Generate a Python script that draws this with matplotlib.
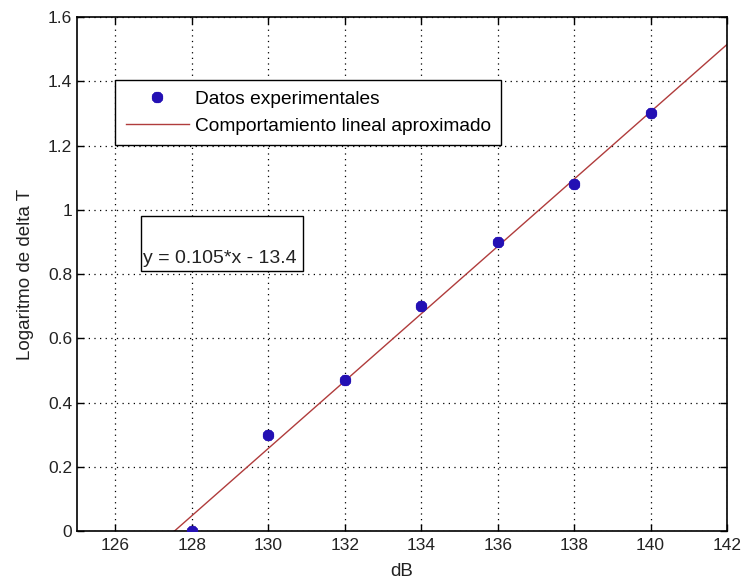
import matplotlib
matplotlib.use("Agg")
import matplotlib.pyplot as plt
from matplotlib.patches import Rectangle

# Data
db = [128, 130, 132, 134, 136, 138, 140]
log_dt = [0.0, 0.30, 0.47, 0.70, 0.90, 1.08, 1.30]
fit_x = [127.55, 142.0]
fit_y = [0.0, 1.515]
xticks = [126, 128, 130, 132, 134, 136, 138, 140, 142]
yticks = [0, 0.2, 0.4, 0.6, 0.8, 1.0, 1.2, 1.4, 1.6]
yticklabels = ["0", "0.2", "0.4", "0.6", "0.8", "1", "1.2", "1.4", "1.6"]

plt.rcParams['font.family'] = ['Liberation Sans', 'DejaVu Sans']
fig = plt.figure(figsize=(7.43, 5.82), dpi=100)
ax = fig.add_axes([0.1036, 0.0876, 0.875, 0.883])

ax.plot(db, log_dt, linestyle='none', marker=(8, 2, 0), markersize=8,
        markeredgewidth=2.6, color='#2410b4', label='Datos experimentales', zorder=3)
ax.plot(fit_x, fit_y, color='#b03c3c', linewidth=1.0,
        label='Comportamiento lineal aproximado', zorder=2)

ax.set_xlim(125, 142)
ax.set_ylim(0, 1.6)
ax.set_xticks(xticks)
ax.set_yticks(yticks)
ax.set_yticklabels(yticklabels)
ax.tick_params(direction='in', top=True, right=True, labelsize=12.5, length=5, width=1,
               labelcolor='#222222')
ax.tick_params(axis='x', pad=5)
ax.tick_params(axis='y', pad=3.5)
ax.grid(True, linestyle=(0, (1, 3.5)), color='black', linewidth=0.9)
for s in ax.spines.values():
    s.set_linewidth(1.2)

ax.set_xlabel('dB', fontsize=13.5, color='#222222')
ax.set_ylabel('Logaritmo de delta T', fontsize=13.5, color='#222222')
ax.xaxis.set_label_coords(0.5, -0.062)
ax.yaxis.set_label_coords(-0.066, 0.5)

leg = ax.legend(loc='upper left', bbox_to_anchor=(0.0585, 0.878), fontsize=13.8,
                frameon=True, fancybox=False, edgecolor='black', framealpha=1,
                borderpad=0.55, handlelength=3.3, handletextpad=0.3,
                labelspacing=0.5, borderaxespad=0)
leg.get_frame().set_linewidth(1.0)

# annotation box
box_x0, box_x1 = 126.67, 130.9
box_y0, box_y1 = 0.81, 0.981
ax.add_patch(Rectangle((box_x0, box_y0), box_x1 - box_x0, box_y1 - box_y0,
                       facecolor='white', edgecolor='black', linewidth=1.0, zorder=4))
ax.text(box_x0 + 0.06, 0.85, 'y = 0.105*x - 13.4', fontsize=14, va='center', ha='left',
        color='#222222', zorder=5)

fig.savefig('out.png', dpi=100)
